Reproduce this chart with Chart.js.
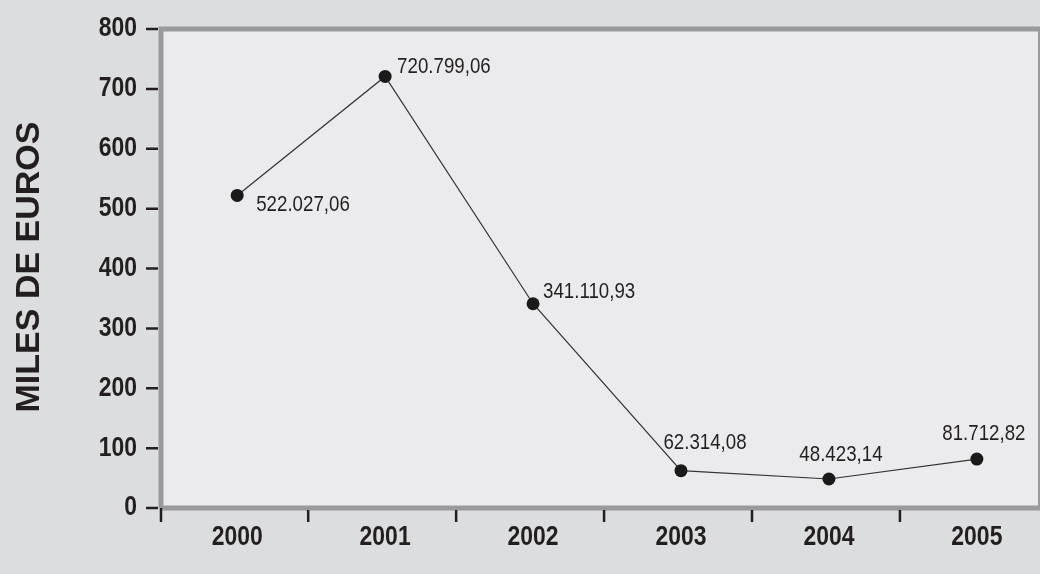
<!DOCTYPE html>
<html lang="es">
<head>
<meta charset="UTF-8">
<title>Miles de euros</title>
<style>
  html, body { margin: 0; padding: 0; background: #dcdddf; overflow: hidden; }
  #wrap { width: 1040px; height: 574px; }
</style>
<script src="https://cdn.jsdelivr.net/npm/chart.js"></script>
</head>
<body>
<div id="wrap"><canvas id="grafico" width="1040" height="574"></canvas></div>
<script>
// datos
const anios = ["2000", "2001", "2002", "2003", "2004", "2005"];
const valores = [522.02706, 720.79906, 341.11093, 62.31408, 48.42314, 81.71282]; // miles de euros
const etiquetas = ["522.027,06", "720.799,06", "341.110,93", "62.314,08", "48.423,14", "81.712,82"];
const ticksY = [0, 100, 200, 300, 400, 500, 600, 700, 800];

// posicion de cada etiqueta respecto al punto: [dx, dy, alineacion]
const posEtiq = [[19, 16, "left"], [12, -3, "left"], [10, -6, "left"], [24, -22, "center"], [12, -18, "center"], [7, -19, "center"]];

const txt = "#231f20";
const sans = "'Liberation Sans', Arial, sans-serif";
const estrecho = 0.85; // texto condensado

// escribe texto estrechado horizontalmente
function texto(ctx, s, x, y, align) {
  ctx.save();
  ctx.translate(x, y);
  ctx.scale(estrecho, 1);
  ctx.textAlign = align;
  ctx.fillText(s, 0, 0);
  ctx.restore();
}

const fondoPlot = {
  id: "fondoPlot",
  beforeDraw(chart) {
    const { ctx, chartArea: a } = chart;
    const x = chart.scales.x, y = chart.scales.y;
    ctx.save();
    ctx.fillStyle = "#ebebed";
    ctx.fillRect(a.left, a.top, a.right - a.left, a.bottom - a.top);
    // borde gris
    ctx.strokeStyle = "#999a9d";
    ctx.lineWidth = 5;
    ctx.beginPath();
    ctx.moveTo(a.left, a.bottom);
    ctx.lineTo(a.left, a.top);
    ctx.lineTo(a.right + 3, a.top);
    ctx.moveTo(a.left, a.bottom);
    ctx.lineTo(a.right + 3, a.bottom);
    ctx.stroke();
    ctx.lineWidth = 2;
    ctx.beginPath();
    ctx.moveTo(a.right, a.top);
    ctx.lineTo(a.right, a.bottom);
    ctx.stroke();
    // marcas del eje y
    ctx.strokeStyle = txt;
    ctx.lineWidth = 2.5;
    ctx.beginPath();
    ticksY.forEach(v => {
      const py = y.getPixelForValue(v);
      ctx.moveTo(a.left - 15, py);
      ctx.lineTo(a.left - 3, py);
    });
    // marcas del eje x (entre categorias)
    ctx.moveTo(a.left, a.bottom);
    ctx.lineTo(a.left, a.bottom + 14);
    for (let i = 0; i < anios.length - 1; i++) {
      const px = x.getPixelForValue(i + 0.48);
      ctx.moveTo(px, a.bottom + 2);
      ctx.lineTo(px, a.bottom + 14);
    }
    ctx.stroke();
    // etiquetas de los ejes
    ctx.fillStyle = txt;
    ctx.font = "bold 27px " + sans;
    ctx.textBaseline = "middle";
    ticksY.forEach(v => texto(ctx, String(v), a.left - 24, y.getPixelForValue(v), "right"));
    anios.forEach((t, i) => texto(ctx, t, x.getPixelForValue(i), a.bottom + 30, "center"));
    // titulo eje y
    ctx.font = "bold 34px " + sans;
    ctx.translate(30, 267);
    ctx.rotate(-Math.PI / 2);
    ctx.textAlign = "center";
    ctx.fillText("MILES DE EUROS", 0, 0);
    ctx.restore();
  },
  afterDatasetsDraw(chart) {
    const { ctx } = chart;
    const pts = chart.getDatasetMeta(0).data;
    ctx.save();
    ctx.fillStyle = txt;
    ctx.font = "22px " + sans;
    ctx.textBaseline = "alphabetic";
    pts.forEach((p, i) => {
      const [dx, dy, al] = posEtiq[i];
      texto(ctx, etiquetas[i], p.x + dx, p.y + dy, al);
    });
    ctx.restore();
  }
};

new Chart(document.getElementById("grafico"), {
  type: "line",
  data: {
    datasets: [{
      data: valores.map((v, i) => ({ x: i, y: v })),
      borderColor: "#333333",
      borderWidth: 1.2,
      pointRadius: 6.5,
      pointBackgroundColor: "#1a1a1a",
      pointBorderColor: "#1a1a1a",
      pointBorderWidth: 0,
      tension: 0
    }]
  },
  options: {
    responsive: false,
    animation: false,
    layout: { autoPadding: false, padding: { top: 29, right: 1, left: 0, bottom: 0 } },
    plugins: { legend: { display: false }, tooltip: { enabled: false } },
    scales: {
      x: {
        type: "linear",
        min: -0.515,
        max: 5.42,
        grid: { display: false },
        border: { display: false },
        ticks: { display: false },
        afterFit: s => { s.height = 66; s.paddingLeft = 0; s.paddingRight = 0; }
      },
      y: {
        min: 0,
        max: 800,
        grid: { display: false },
        border: { display: false },
        ticks: { display: false },
        afterFit: s => { s.width = 161; s.paddingTop = 0; s.paddingBottom = 0; }
      }
    }
  },
  plugins: [fondoPlot]
});
</script>
</body>
</html>
